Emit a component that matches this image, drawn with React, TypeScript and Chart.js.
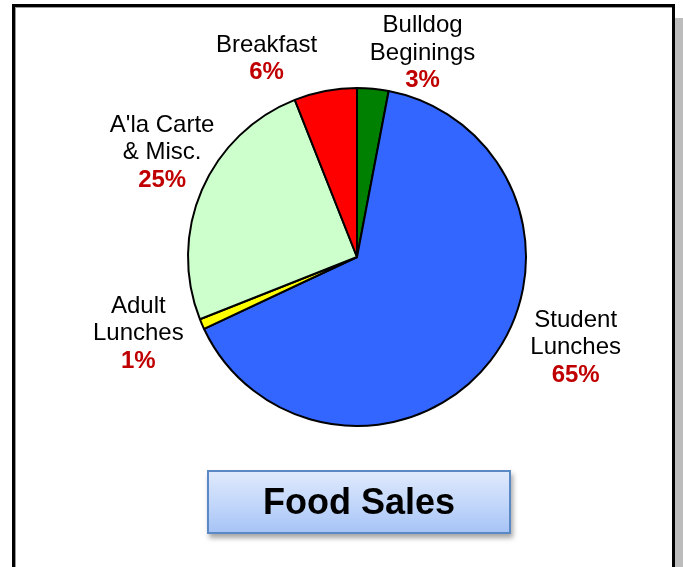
import React, { useEffect, useRef } from "react";
import { Chart, registerables } from "chart.js";

Chart.register(...registerables);

// ---- data ----
const categories: string[][] = [
  ["Bulldog", "Beginings"],
  ["Student", "Lunches"],
  ["Adult", "Lunches"],
  ["A'la Carte", "& Misc."],
  ["Breakfast"],
];
const values: number[] = [3, 65, 1, 25, 6];
const sliceColors: string[] = ["#008000", "#3366ff", "#ffff00", "#ccffcc", "#ff0000"];
const chartTitle = "Food Sales";

// label anchor offsets (in units of pie radius, relative to pie centre)
const labelAnchors: [number, number][] = [
  [0.388, -1.206],
  [1.294, 0.535],
  [-1.294, 0.453],
  [-1.153, -0.618],
  [-0.535, -1.171],
];

const FONT = "'Liberation Sans', Arial, sans-serif";

const labelPlugin = {
  id: "pieLabels",
  afterDatasetsDraw(chart: any) {
    const ctx = chart.ctx;
    const meta = chart.getDatasetMeta(0);
    const data = chart.data.datasets[0].data as number[];
    const total = data.reduce((a, b) => a + b, 0);
    const lineH = 27.5;
    meta.data.forEach((arc: any, i: number) => {
      const R = arc.outerRadius;
      const cx = arc.x + labelAnchors[i][0] * R;
      const cy = arc.y + labelAnchors[i][1] * R;
      const lines = chart.data.labels[i] as string[];
      const n = lines.length + 1;
      const y0 = cy - ((n - 1) * lineH) / 2;
      ctx.save();
      ctx.textAlign = "center";
      ctx.textBaseline = "middle";
      ctx.font = `24px ${FONT}`;
      ctx.fillStyle = "#000";
      lines.forEach((t, k) => ctx.fillText(t, cx, y0 + k * lineH));
      ctx.font = `bold 24px ${FONT}`;
      ctx.fillStyle = "#c00000";
      const pct = Math.round((data[i] / total) * 100) + "%";
      ctx.fillText(pct, cx, y0 + lines.length * lineH);
      ctx.restore();
    });
  },
};

export default function App() {
  const canvasRef = useRef<HTMLCanvasElement>(null);

  useEffect(() => {
    if (!canvasRef.current) return;
    const chart = new Chart(canvasRef.current, {
      type: "pie",
      data: {
        labels: categories,
        datasets: [
          {
            data: values,
            backgroundColor: sliceColors,
            borderColor: "#000",
            borderWidth: 2,
            radius: 169,
          } as any,
        ],
      },
      options: {
        responsive: false,
        animation: false,
        layout: { padding: { left: 31, right: 0, top: 0, bottom: 53 } },
        plugins: {
          legend: { display: false },
          tooltip: { enabled: false },
        },
      },
      plugins: [labelPlugin],
    });
    return () => chart.destroy();
  }, []);

  return (
    <div
      style={{
        position: "absolute",
        left: 0,
        top: 0,
        width: 683,
        height: 567,
        overflow: "hidden",
        background: "#fff",
      }}
    >
      <div
        style={{
          position: "absolute",
          left: 12,
          top: 4,
          width: 663,
          height: 570,
          boxSizing: "border-box",
          border: "3px solid #000",
          background: "#fff",
          boxShadow: "8px 14px 0 #bcbcbc, inset 1px 1px 0 #9a9a9a",
        }}
      />
      <canvas
        ref={canvasRef}
        width={683}
        height={567}
        style={{ position: "absolute", left: 0, top: 0, width: 683, height: 567 }}
      />
      <div
        style={{
          position: "absolute",
          left: 207,
          top: 470,
          width: 304,
          height: 64,
          boxSizing: "border-box",
          border: "2px solid #5b89c6",
          background: "linear-gradient(to bottom, #dfe9fc 0%, #c4d8fa 50%, #a7c4f6 100%)",
          boxShadow: "2px 4px 5px rgba(0,0,0,0.35)",
          display: "flex",
          alignItems: "center",
          justifyContent: "center",
          fontFamily: FONT,
          fontWeight: "bold",
          fontSize: 36,
          color: "#000",
        }}
      >
        {chartTitle}
      </div>
    </div>
  );
}
